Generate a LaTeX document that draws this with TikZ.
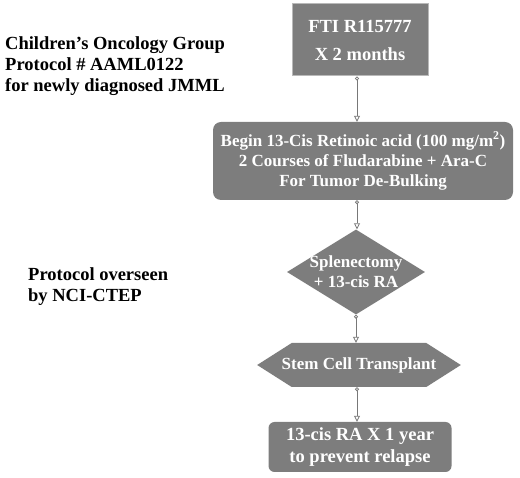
\documentclass[tikz,border=0pt]{standalone}
\usepackage{fontspec}
\setmainfont{Liberation Serif}
\usetikzlibrary{arrows.meta,shapes.geometric,shapes.symbols}
\definecolor{boxgray}{RGB}{125,125,125}
\definecolor{linegray}{RGB}{120,120,120}
\begin{document}
\begin{tikzpicture}[x=1pt, y=-1pt,
    every node/.style={font=\fontsize{17}{20}\selectfont\bfseries},
    flowbox/.style={fill=boxgray, text=white, align=center, inner sep=0pt},
    bigtext/.style={font=\fontsize{18.5}{22}\selectfont\bfseries},
    sidenote/.style={font=\fontsize{18.5}{21}\selectfont\bfseries, align=left, anchor=north west, inner sep=0pt},
    flowline/.style={linegray, line width=0.8pt, {Circle[open, length=4pt, fill=white]}-{Triangle[open, length=6pt, width=6pt, fill=white]}}]
    \useasboundingbox (0,0) rectangle (520,478);
    % notes on the left
    \node[sidenote] (cog) at (5,36) {Children’s Oncology Group\\Protocol \# AAML0122\\for newly diagnosed JMML};
    \node[sidenote] (nci) at (28,267) {Protocol overseen\\by NCI-CTEP};
    % the flow of the protocol
    \node[flowbox, bigtext, draw=gray!55, line width=1pt, minimum width=136pt, minimum height=72pt] (fti) at (360,40) {FTI R115777\\[6pt]X 2 months};
    \node[flowbox, rounded corners=8pt, minimum width=300pt, minimum height=78pt] (cis) at (363,161)
        {Begin 13-Cis Retinoic acid (100 mg/m\textsuperscript{2})\\2 Courses of Fludarabine + Ara-C\\For Tumor De-Bulking};
    \node[flowbox, diamond, aspect=1.62, inner sep=-2pt, minimum width=138pt, minimum height=85pt] (splen) at (356,272) {Splenectomy\\+ 13-cis RA};
    \node[flowbox, signal, signal to=west and east, signal pointer angle=65, inner xsep=-10pt, minimum height=44pt] (sct) at (359,365) {Stem Cell Transplant};
    \node[flowbox, bigtext, rounded corners=6pt, minimum width=183pt, minimum height=50pt] (ra) at (360,447) {13-cis RA X 1 year\\to prevent relapse};
    \draw[flowline] ([xshift=-3pt]fti.south) -- ([xshift=-3pt]fti.south |- cis.north);
    \draw[flowline] ([xshift=-6pt]cis.south) -- ([xshift=-6pt]cis.south |- splen.north);
    \draw[flowline] (splen.south) -- (splen.south |- sct.north);
    \draw[flowline] ([xshift=-2pt]sct.south) -- ([xshift=-2pt]sct.south |- ra.north);
\end{tikzpicture}
\end{document}
